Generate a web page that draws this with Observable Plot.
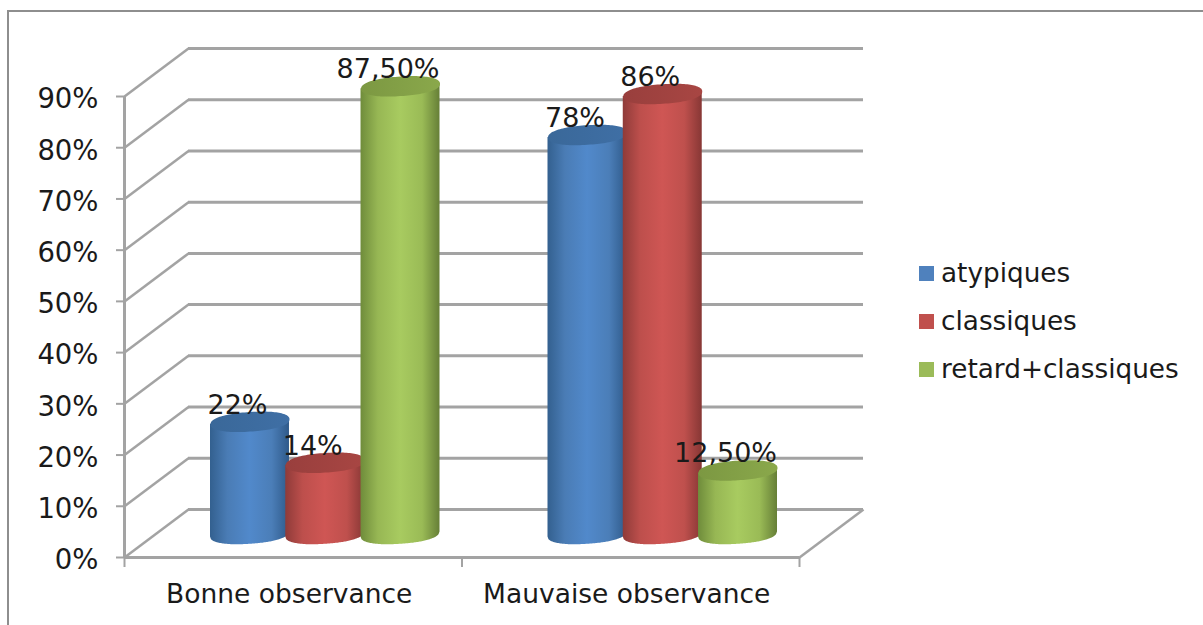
<!DOCTYPE html>
<html><head><meta charset="utf-8">
<script src="https://cdn.jsdelivr.net/npm/d3@7"></script>
<script src="https://cdn.jsdelivr.net/npm/@observablehq/plot@0.6"></script>
<style>
html,body{margin:0;padding:0;background:#fff;overflow:hidden}
#wrap{position:relative;width:1203px;height:625px;overflow:hidden;font-family:"DejaVu Sans",sans-serif}
#frame{position:absolute;left:7px;top:10px;width:1300px;height:700px;border:2px solid #8e8e8e;box-sizing:border-box}
#legend{position:absolute;left:919px;top:249px;font-size:26.3px;color:#1a1a1a}
#legend div{display:flex;align-items:center;height:48px;white-space:nowrap}
#legend i{display:block;width:15px;height:15px;margin-right:7px}
</style></head><body>
<div id="wrap"><div id="frame"></div><div id="chart"></div><div id="legend"></div></div>
<script>
const groups = ["Bonne observance", "Mauvaise observance"];
const seriesNames = ["atypiques", "classiques", "retard+classiques"];
const atypiques = [22, 78];
const classiques = [14, 86];
const retard = [87.5, 12.5];
const atypiquesLabels = ["22%", "78%"];
const classiquesLabels = ["14%", "86%"];
const retardLabels = ["87,50%", "12,50%"];
const yTicks = [0, 10, 20, 30, 40, 50, 60, 70, 80, 90];
const swatchColors = ["#4f81bd", "#c0504d", "#9bbb59"];
const bodyStops = [
  ["#33608f", "#4a7cb5", "#5189cb", "#4b7eb8", "#2f5a8a"],
  ["#8f3b39", "#bd4f4c", "#cf5654", "#bf504d", "#873735"],
  ["#6f8c3b", "#97b754", "#a8cb60", "#9abb56", "#667f37"]
];
const topStops = [["#3a6899", "#3f6fa5"], ["#993f3d", "#a84643"], ["#7c9842", "#8aa84b"]];

const table = seriesNames.map((name, s) => {
  const vals = [atypiques, classiques, retard][s];
  const labs = [atypiquesLabels, classiquesLabels, retardLabels][s];
  return groups.map((g, i) => ({g: i, s, v: vals[i], label: labs[i], c: i + 0.5 + (s - 1) * 0.223}));
});

// 3D projection of the chart's depth
const depthX = 64, depthY = -48;
const cylX = 32, cylY = -23;
const unitsX = 337.5, unitsY = 461 / 90;
const backX = depthX / unitsX, backY = -depthY / unitsY;
const half = 0.117;
const rx = 39.5, ry = 9.8, shear = 2.5, power = 2.25;
const arc = t => Math.pow(1 - Math.pow(Math.abs(t), power), 1 / power);
const ts = d3.range(-40, 41).map(i => i / 40);
// A cylinder's silhouette, sampled across its width: straight top, rounded foot.
const outline = rows => rows.flatMap(d => ts.map(t => ({
  id: d.g, x: d.c + half * t,
  lo: (t * shear - ry * arc(t)) / unitsY,
  hi: d.v + t * shear / unitsY
})));
const lid = {
  draw(ctx, size) {
    const r = Math.sqrt(size / Math.PI), b = r * ry / rx, k = shear / rx;
    for (let a = 0; a < 120; ++a) {
      const th = a / 120 * 2 * Math.PI, c = Math.cos(th), s = Math.sin(th);
      const ex = r * Math.sign(c) * Math.pow(Math.abs(c), 2 / power);
      const ey = b * Math.sign(s) * Math.pow(Math.abs(s), 2 / power);
      const px = ex, py = ey - ex * k;
      a ? ctx.lineTo(px, py) : ctx.moveTo(px, py);
    }
    ctx.closePath();
  }
};
const grey = "#a3a3a3";
const sw = 3;
const marks = [
  Plot.ruleY(yTicks, {x1: 0, x2: 2, dx: depthX, dy: depthY, stroke: grey, strokeWidth: sw}),
  Plot.link(yTicks, {x1: () => 0, y1: d => d, x2: () => backX, y2: d => d + backY, stroke: grey, strokeWidth: 2.5}),
  Plot.link([0], {x1: () => 2, y1: d => d, x2: () => 2 + backX, y2: d => d + backY, stroke: grey, strokeWidth: 2.5}),
  Plot.ruleY([0], {x1: 0, x2: 2, stroke: grey, strokeWidth: sw}),
  Plot.ruleX([0], {y1: 0, y2: 90, stroke: grey, strokeWidth: sw}),
  Plot.axisY({ticks: yTicks, tickSize: 8, tickFormat: () => "", stroke: grey, strokeWidth: 2, label: null}),
  Plot.axisY({ticks: yTicks, tickSize: 0, tickPadding: 26, dy: 3, tickFormat: d => d + "%", fontSize: 27.5, color: "#1a1a1a", label: null}),
  Plot.axisX({ticks: [0, 1, 2], tickSize: 10, tickFormat: () => "", stroke: grey, strokeWidth: 2, label: null}),
  Plot.axisX({ticks: [0.5, 1.5], tickSize: 0, tickPadding: 27, tickFormat: d => groups[Math.floor(d)], fontSize: 26.5, dx: -4, color: "#1a1a1a", label: null})
];
table.forEach((rows, s) => {
  const common = {dx: cylX, dy: cylY};
  marks.push(
    Plot.areaY(outline(rows), {x: "x", y1: "lo", y2: "hi", z: "id", fill: `url(#body${s})`, curve: "linear", ...common}),
    Plot.dot(rows, {x: "c", y: "v", r: rx, symbol: lid, fill: `url(#top${s})`, ...common})
  );
});
table.forEach(rows => {
  marks.push(Plot.text(rows, {x: "c", y: "v", text: "label", dx: cylX - 12.5, dy: cylY - 8, lineAnchor: "bottom", fontSize: 27, fill: "#1a1a1a"}));
});
const plot = Plot.plot({
  width: 1203, height: 625,
  marginLeft: 124, marginRight: 404, marginTop: 96, marginBottom: 68,
  style: {background: "transparent", fontFamily: '"DejaVu Sans",sans-serif', overflow: "visible"},
  x: {domain: [0, 2], axis: null},
  y: {domain: [0, 90], axis: null},
  marks
});
plot.style.position = "absolute";
plot.style.left = "0"; plot.style.top = "0";
document.getElementById("chart").append(plot);

// Shaded fills for the cylinders
const defs = d3.select(plot).insert("defs", ":first-child");
bodyStops.forEach((stops, s) => {
  const g = defs.append("linearGradient").attr("id", `body${s}`).attr("x1", 0).attr("x2", 1).attr("y1", 0).attr("y2", 0);
  stops.forEach((c, i) => g.append("stop").attr("offset", [0, 0.22, 0.5, 0.78, 1][i]).attr("stop-color", c));
});
topStops.forEach((stops, s) => {
  const g = defs.append("linearGradient").attr("id", `top${s}`).attr("x1", 0).attr("x2", 1).attr("y1", 0).attr("y2", 0);
  g.append("stop").attr("offset", 0).attr("stop-color", stops[0]);
  g.append("stop").attr("offset", 1).attr("stop-color", stops[1]);
});

d3.select("#legend").selectAll("div").data(seriesNames).join("div")
  .html((d, i) => `<i style="background:${swatchColors[i]}"></i><span>${d}</span>`);
</script>
</body></html>
